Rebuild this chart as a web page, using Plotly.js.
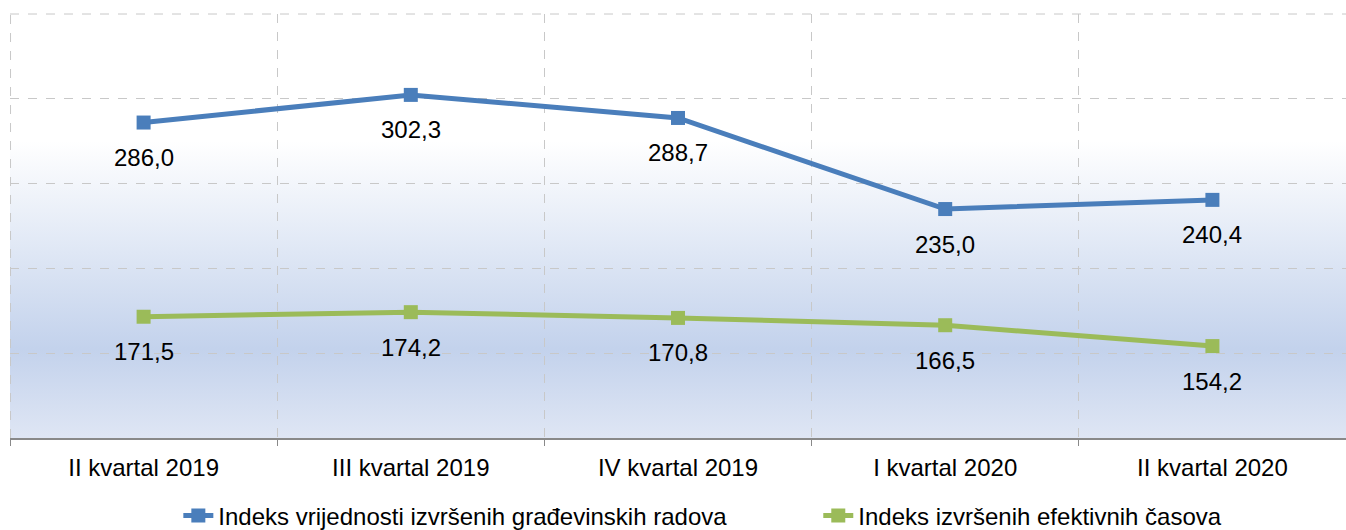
<!DOCTYPE html>
<html>
<head>
<meta charset="utf-8">
<script src="https://cdn.plot.ly/plotly-3.0.1.min.js"></script>
<style>
html,body{margin:0;padding:0;background:#fff;}
#chart{width:1346px;height:530px;}
</style>
</head>
<body>
<div id="chart"></div>
<script>
const categories = ["II kvartal 2019", "III kvartal 2019", "IV kvartal 2019", "I kvartal 2020", "II kvartal 2020"];
const seriesNames = ["Indeks vrijednosti izvršenih građevinskih radova", "Indeks izvršenih efektivnih časova"];
const valuesRadova = [286.0, 302.3, 288.7, 235.0, 240.4];
const valuesCasova = [171.5, 174.2, 170.8, 166.5, 154.2];
const colors = ["#4a7ebb", "#9bbb59"];

function fmt(v){ return v.toFixed(1).replace('.', ','); }

const font = "Liberation Sans, Arial, sans-serif";
const fs = 24;

const legendIds = ['legend', 'legend2'];
const traces = [valuesRadova, valuesCasova].map((vals, i) => ({
  type: 'scatter',
  mode: 'lines+markers',
  x: categories,
  y: vals,
  name: seriesNames[i],
  legend: legendIds[i],
  line: {color: colors[i], width: 5},
  marker: {symbol: 'square', size: 14, color: colors[i]},
  hoverinfo: 'none'
}));

const annotations = [];
[valuesRadova, valuesCasova].forEach(vals => {
  vals.forEach((v, j) => {
    annotations.push({
      x: categories[j], y: v, xref: 'x', yref: 'y',
      text: fmt(v), showarrow: false, yshift: -35,
      font: {family: font, size: fs, color: '#000'}
    });
  });
});

const grad = '<svg xmlns="http://www.w3.org/2000/svg" width="100" height="100" preserveAspectRatio="none">' +
  '<defs><linearGradient id="g" x1="0" y1="0" x2="0" y2="1">' +
  '<stop offset="0" stop-color="#ffffff"/>' +
  '<stop offset="0.3" stop-color="#ffffff"/>' +
  '<stop offset="0.79" stop-color="#c3d2ec"/>' +
  '<stop offset="1" stop-color="#dfe6f4"/>' +
  '</linearGradient></defs><rect width="100" height="100" fill="url(#g)"/></svg>';

const gridStyle = {color: '#c8c8c8', width: 1, dash: 'dash'};

const legendBase = {
  orientation: 'h', xanchor: 'left', y: -0.184, yanchor: 'middle',
  font: {family: font, size: fs, color: '#000'},
  bgcolor: 'rgba(0,0,0,0)', itemclick: false
};

const layout = {
  width: 1346, height: 530,
  margin: {l: 10, r: 0, t: 14, b: 92, autoexpand: false},
  paper_bgcolor: '#ffffff',
  plot_bgcolor: 'rgba(0,0,0,0)',
  showlegend: true,
  legend: Object.assign({}, legendBase, {x: 0.126}),
  legend2: Object.assign({}, legendBase, {x: 0.605}),
  xaxis: {
    type: 'category',
    range: [-0.5, 4.5],
    tickson: 'boundaries',
    ticks: 'outside', ticklen: 6, tickcolor: '#898989', tickwidth: 1,
    ticklabelstandoff: 7,
    showgrid: true, gridcolor: '#c8c8c8', griddash: 'dash', gridwidth: 1,
    showline: true, linecolor: '#898989', linewidth: 2,
    tickfont: {family: font, size: fs, color: '#000'},
    automargin: false,
    fixedrange: true
  },
  yaxis: {
    range: [100, 350],
    tickvals: [100, 150, 200, 250, 300, 350],
    showticklabels: false,
    showgrid: true, gridcolor: '#c8c8c8', griddash: 'dash', gridwidth: 1,
    zeroline: false, showline: false,
    automargin: false,
    fixedrange: true
  },
  shapes: [
    {type: 'line', xref: 'paper', yref: 'paper', x0: 0, x1: 1, y0: 1, y1: 1, line: gridStyle, layer: 'below'},
    {type: 'line', xref: 'paper', yref: 'paper', x0: 0.0004, x1: 0.0004, y0: 0, y1: 1, line: gridStyle, layer: 'below'}
  ],
  images: [{
    source: 'data:image/svg+xml;charset=utf-8,' + encodeURIComponent(grad),
    xref: 'paper', yref: 'paper', x: 0, y: 1, sizex: 1, sizey: 1,
    xanchor: 'left', yanchor: 'top', sizing: 'stretch', layer: 'below'
  }],
  annotations: annotations
};

Plotly.newPlot('chart', traces, layout, {displayModeBar: false, staticPlot: true});
</script>
</body>
</html>
